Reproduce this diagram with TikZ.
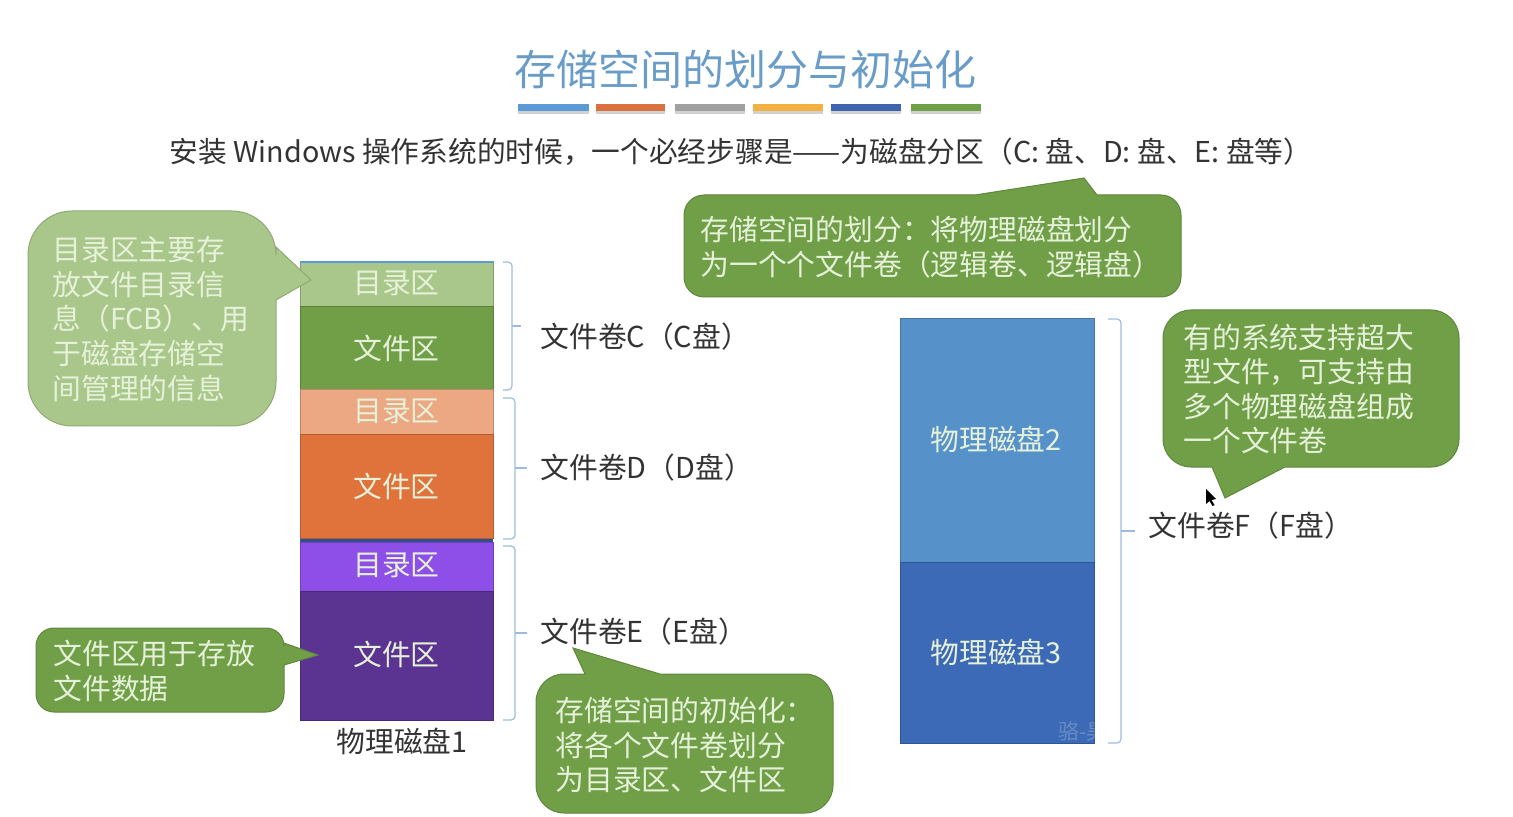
\documentclass[tikz,border=0pt]{standalone}
\usepackage{fontspec}
\setmainfont{Noto Sans CJK SC}

\definecolor{barblue}{HTML}{5B9BD5}
\definecolor{barorange}{HTML}{D9703F}
\definecolor{bargray}{HTML}{A0A0A0}
\definecolor{baryellow}{HTML}{F2B141}
\definecolor{bardarkblue}{HTML}{3E64AE}
\definecolor{bargreen}{HTML}{6F9F47}
\definecolor{lightgreen}{HTML}{A9C78A}
\definecolor{midgreen}{HTML}{709F48}
\definecolor{lightorange}{HTML}{EBA882}
\definecolor{midorange}{HTML}{E0733B}
\definecolor{lightpurple}{HTML}{8E4FE8}
\definecolor{midpurple}{HTML}{5B3391}
\definecolor{diskblue}{HTML}{5692C9}
\definecolor{diskdarkblue}{HTML}{3D6AB6}
\definecolor{bracecol}{HTML}{9DBBDD}
\definecolor{softtext}{HTML}{E6F1DA}
\definecolor{titlecol}{HTML}{6A9CC8}
\definecolor{bodytext}{HTML}{333333}

\tikzset{
  bar/.style={line width=3.5pt},
  barshadow/.style={line width=1.5pt,black!18},
  zone/.style={fill=#1,draw=#1!80!black,line width=0.5pt},
  zonetext/.style={text=softtext,font=\fontsize{14.4}{17}\selectfont},
  bubble/.style={fill=#1,draw=#1!85!black,line width=0.5pt},
  bubbletext/.style={text=softtext,anchor=west,align=left,inner sep=0pt,
    font=\fontsize{14.4}{17.2}\selectfont},
  volume/.style={anchor=west,inner sep=0pt,text=bodytext,font=\fontsize{14.4}{17}\selectfont},
  curly/.style={draw=bracecol,line width=0.6pt,rounded corners=2pt},
}

\begin{document}
\begin{tikzpicture}[x=0.5pt,y=-0.5pt]
    \useasboundingbox (0,0) rectangle (1513,817);

    % title and its coloured bars
    \node (title) at (745,69) {\fontsize{21}{25}\selectfont\textcolor{titlecol}{存储空间的划分与初始化}};
    \coordinate (b1) at (518,107.5);  \coordinate (b2) at (589,107.5);
    \coordinate (b3) at (596,107.5);  \coordinate (b4) at (665,107.5);
    \coordinate (b5) at (675,107.5);  \coordinate (b6) at (745,107.5);
    \coordinate (b7) at (753,107.5);  \coordinate (b8) at (823,107.5);
    \coordinate (b9) at (831,107.5);  \coordinate (b10) at (901,107.5);
    \coordinate (b11) at (911,107.5); \coordinate (b12) at (981,107.5);
    \foreach \i/\j in {b1/b2,b3/b4,b5/b6,b7/b8,b9/b10,b11/b12}
      \draw[barshadow] ([yshift=-2.4pt]\i) -- ([yshift=-2.4pt]\j);
    \draw[bar,barblue]     (b1) -- (b2);
    \draw[bar,barorange]   (b3) -- (b4);
    \draw[bar,bargray]     (b5) -- (b6);
    \draw[bar,baryellow]   (b7) -- (b8);
    \draw[bar,bardarkblue] (b9) -- (b10);
    \draw[bar,bargreen]    (b11) -- (b12);

    \node[inner sep=0pt,text=bodytext,font=\fontsize{14.35}{17}\selectfont] (intro) at (741,152)
      {安装 Windows 操作系统的时候，一个必经步骤是——为磁盘分区（C: 盘、D: 盘、E: 盘等）};

    % physical disk 1
    \fill[bardarkblue!80!black] (300,538) rectangle (493,542);
    \draw[zone=lightgreen]  (300,262) rectangle (493,307);
    \draw[zone=midgreen]    (300,307) rectangle (493,390);
    \draw[zone=lightorange] (300,390) rectangle (493,435);
    \draw[zone=midorange]   (300,435) rectangle (493,538);
    \draw[zone=lightpurple] (300,542) rectangle (493,591);
    \draw[zone=midpurple]   (300,591) rectangle (493,720);
    \draw[barblue,line width=0.6pt] (300,262) -- (493,262);
    \node[zonetext] (dirC)  at (396.5,283) {目录区};
    \node[zonetext] (fileC) at (396.5,348) {文件区};
    \node[zonetext] (dirD)  at (396.5,411) {目录区};
    \node[zonetext] (fileD) at (396.5,486) {文件区};
    \node[zonetext] (dirE)  at (396.5,565) {目录区};
    \node[zonetext] (fileE) at (396.5,654) {文件区};
    \node[inner sep=0pt,text=bodytext,font=\fontsize{14.4}{17}\selectfont] (disk1) at (402,741) {物理磁盘1};

    % physical disks 2 and 3
    \draw[zone=diskblue]     (900,319) rectangle (1094,562);
    \draw[zone=diskdarkblue] (900,562) rectangle (1094,743);
    \node[zonetext] (disk2) at (996,439) {物理磁盘2};
    \node[zonetext] (disk3) at (996,652) {物理磁盘3};

    % braces
    \coordinate (cTop) at (503,262);  \coordinate (cMid) at (512,326);  \coordinate (cBot) at (503,390);  \coordinate (cTip) at (521,326);
    \coordinate (dTop) at (503,398);  \coordinate (dMid) at (515,468);  \coordinate (dBot) at (503,539);  \coordinate (dTip) at (527,468);
    \coordinate (eTop) at (503,546);  \coordinate (eMid) at (515,633);  \coordinate (eBot) at (503,720);  \coordinate (eTip) at (527,633);
    \coordinate (fTop) at (1108,319); \coordinate (fMid) at (1121,531); \coordinate (fBot) at (1108,743); \coordinate (fTip) at (1135,531);
    \foreach \v in {c,d,e,f} {
      \draw[curly] (\v Top) -| (\v Mid) |- (\v Bot);
      \draw[curly] (\v Mid) -- (\v Tip);
    }

    \node[volume] (volC) at (540,337)  {文件卷C（C盘）};
    \node[volume] (volD) at (540,468)  {文件卷D（D盘）};
    \node[volume] (volE) at (540,632)  {文件卷E（E盘）};
    \node[volume] (volF) at (1148,526) {文件卷F（F盘）};

    % callouts
    \draw[bubble=lightgreen] (276,247) -- (311,280) -- (276,300)
      [rounded corners=22pt] -- (276,426) -- (28,426) -- (28,211) -- (276,211) [sharp corners] -- cycle;
    \node[bubbletext] (noteDir) at (52,319) {目录区主要存\\[0.1pt]放文件目录信\\[0.1pt]息（FCB）、用\\[0.1pt]于磁盘存储空\\[0.1pt]间管理的信息};

    \draw[bubble=midgreen] (284,643) -- (318,655) -- (284,665)
      [rounded corners=9pt] -- (284,712) -- (36,712) -- (36,628) -- (284,628) [sharp corners] -- cycle;
    \node[bubbletext] (noteFile) at (53,671) {文件区用于存放\\文件数据};

    \draw[bubble=midgreen] (975,195) -- (1084,178) -- (1097,195)
      [rounded corners=10pt] -- (1181,195) -- (1181,297) -- (684,297) -- (684,195) [sharp corners] -- cycle;
    \node[bubbletext] (noteSplit) at (700,247) {存储空间的划分：将物理磁盘划分\\为一个个文件卷（逻辑卷、逻辑盘）};

    \draw[bubble=midgreen] (1285,467) -- (1225,498) -- (1212,467)
      [rounded corners=14pt] -- (1163,467) -- (1163,310) -- (1459,310) -- (1459,467) [sharp corners] -- cycle;
    \node[bubbletext] (noteBig) at (1183,389) {有的系统支持超大\\型文件，可支持由\\多个物理磁盘组成\\一个文件卷};

    \draw[bubble=midgreen] (585,674) -- (573,648) -- (660,674)
      [rounded corners=14pt] -- (833,674) -- (833,813) -- (536,813) -- (536,674) [sharp corners] -- cycle;
    \node[bubbletext] (noteInit) at (555,745) {存储空间的初始化：\\将各个文件卷划分\\为目录区、文件区};

    % watermark and mouse pointer
    \node[text=white,opacity=0.22,font=\fontsize{10.5}{12}\selectfont] (mark) at (1083,731) {骆-昊};
    \coordinate (ptr) at (1206,489);
    \fill[black] (ptr) -- ++(0,15) -- ++(3.5,-3) -- ++(3,5) -- ++(2,-1) -- ++(-3,-5) -- ++(4.5,-1) -- cycle;
\end{tikzpicture}
\end{document}
